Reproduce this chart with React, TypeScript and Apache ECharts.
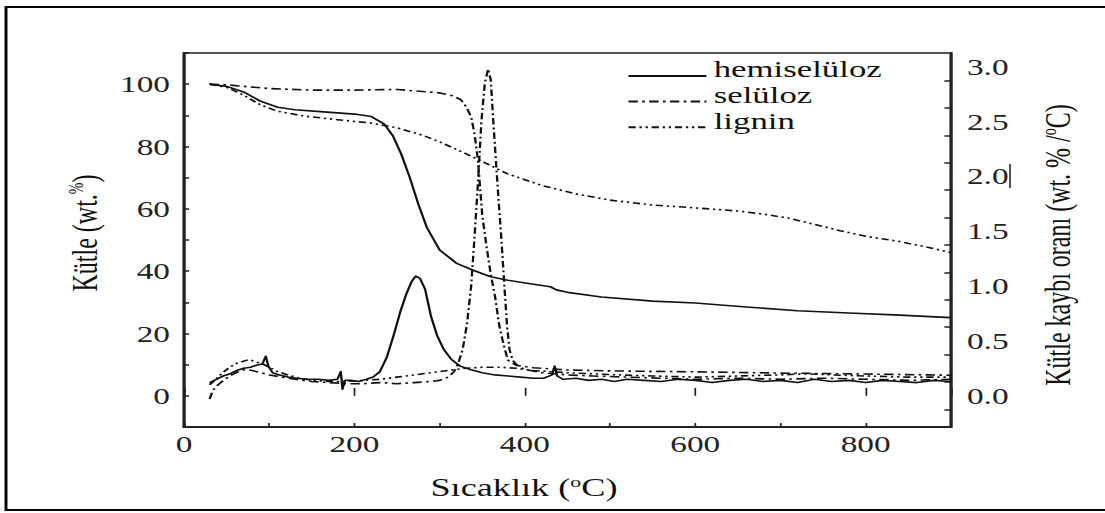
import React, { useEffect, useRef } from 'react';
import * as echarts from 'echarts';

// ---------- data ----------
const seriesNames = ['hemiselüloz', 'selüloz', 'lignin'];

const xTickLabels = ['0', '200', '400', '600', '800'];
const leftTickLabels = ['0', '20', '40', '60', '80', '100'];
const rightLabelValues = [0, 0.5, 1.0, 1.5, 2.0, 2.5, 3.0];
const rightTickValues = [-0.125, 0.125, 0.375, 0.625, 0.875, 1.125, 1.375, 1.625, 1.875, 2.125, 2.375, 2.625, 2.875];

// Mass (TG, wt.%) — left axis
const hemiTgT = [30, 50, 70, 90, 110, 130, 160, 200, 220, 235, 245, 255, 265, 275, 285, 300, 320, 340, 360, 380, 410, 430, 437, 450, 490, 550, 600, 660, 720, 780, 840, 900];
const hemiTgV = [100, 99.3, 97.5, 94.5, 92.6, 91.8, 91.2, 90.4, 89.6, 87.2, 83.5, 77.5, 70, 61.5, 54, 46.8, 42.5, 40.2, 38.2, 37.1, 35.8, 35, 34, 33.2, 31.7, 30.4, 29.8, 28.5, 27.3, 26.6, 25.9, 25.1];

const selTgT = [30, 50, 70, 100, 150, 200, 250, 300, 315, 325, 331, 337, 341, 345, 350, 355, 360, 365, 370, 375, 380, 390, 410, 450, 500, 600, 700, 800, 900];
const selTgV = [100, 99.8, 99.3, 98.6, 98.1, 98.1, 98.3, 97.2, 96.3, 95, 92.8, 89.5, 84, 75.5, 58, 48, 39, 32, 22.5, 16.5, 11.5, 9.8, 9, 8.3, 8, 7.7, 7.3, 7, 6.6];

const ligTgT = [30, 50, 70, 90, 110, 140, 180, 220, 250, 280, 300, 330, 350, 380, 420, 460, 500, 550, 600, 650, 680, 710, 740, 770, 800, 840, 870, 900];
const ligTgV = [100, 99, 96.5, 93.3, 91.3, 89.8, 88.6, 87.5, 86, 83.6, 81.5, 77.8, 75.2, 71.2, 67.5, 64.8, 62.8, 61.2, 60.3, 59.3, 58.3, 57, 55, 53, 51.2, 49.5, 47.8, 46];

// Mass loss rate (DTG, wt.%/°C) — right axis
const hemiDtgT = [30, 38, 46, 54, 62, 70, 78, 86, 92, 96, 99, 104, 112, 122, 132, 145, 158, 170, 180, 184, 186, 189, 196, 205, 214, 222, 230, 238, 246, 254, 261, 267, 272, 277, 283, 290, 297, 305, 314, 324, 336, 350, 365, 380, 395, 410, 422, 432, 435, 438, 445, 460, 475, 490, 505, 520, 540, 560, 580, 600, 620, 640, 660, 680, 700, 720, 740, 760, 780, 800, 820, 840, 860, 880, 900];
const hemiDtgV = [0.12, 0.15, 0.18, 0.2, 0.23, 0.25, 0.26, 0.28, 0.29, 0.36, 0.27, 0.21, 0.19, 0.17, 0.16, 0.15, 0.15, 0.14, 0.15, 0.22, 0.06, 0.14, 0.14, 0.13, 0.15, 0.17, 0.22, 0.35, 0.55, 0.77, 0.93, 1.04, 1.09, 1.07, 0.97, 0.72, 0.55, 0.42, 0.33, 0.27, 0.24, 0.21, 0.19, 0.18, 0.17, 0.16, 0.16, 0.19, 0.27, 0.18, 0.15, 0.16, 0.14, 0.15, 0.13, 0.15, 0.14, 0.13, 0.15, 0.14, 0.12, 0.14, 0.15, 0.13, 0.14, 0.12, 0.15, 0.13, 0.14, 0.12, 0.14, 0.13, 0.12, 0.14, 0.13];

const selDtgT = [30, 34, 40, 48, 56, 64, 72, 80, 90, 100, 115, 130, 150, 170, 190, 210, 230, 250, 270, 290, 300, 310, 317, 322, 327, 332, 337, 341, 345, 349, 353, 357, 360, 363, 366, 369, 372, 376, 379, 382, 386, 392, 400, 420, 450, 480, 520, 560, 600, 650, 700, 750, 800, 850, 900];
const selDtgV = [-0.03, 0.05, 0.1, 0.15, 0.19, 0.22, 0.24, 0.23, 0.21, 0.19, 0.17, 0.15, 0.13, 0.12, 0.11, 0.11, 0.12, 0.11, 0.12, 0.13, 0.14, 0.17, 0.22, 0.3, 0.42, 0.65, 1.0, 1.45, 1.94, 2.5, 2.85, 2.98, 2.88, 2.5, 2.15, 1.8, 1.48, 1.0, 0.65, 0.42, 0.32, 0.27, 0.24, 0.21, 0.19, 0.18, 0.17, 0.16, 0.15, 0.16, 0.15, 0.16, 0.15, 0.14, 0.15];

const ligDtgT = [30, 36, 44, 52, 60, 68, 76, 84, 92, 100, 110, 122, 135, 150, 170, 190, 210, 230, 250, 270, 290, 310, 330, 350, 370, 390, 410, 430, 450, 480, 510, 550, 600, 650, 700, 730, 760, 800, 850, 900];
const ligDtgV = [0.1, 0.14, 0.2, 0.25, 0.29, 0.31, 0.33, 0.31, 0.29, 0.26, 0.22, 0.19, 0.16, 0.14, 0.13, 0.13, 0.14, 0.15, 0.17, 0.19, 0.21, 0.23, 0.25, 0.26, 0.26, 0.25, 0.23, 0.22, 0.21, 0.2, 0.19, 0.18, 0.17, 0.18, 0.19, 0.2, 0.19, 0.18, 0.17, 0.17];

// ---------- layout ----------
const S = 1.45; // the original figure is stretched horizontally
const H = 513;
const W = 1105 / S;
const px = (pageX: number) => pageX / S;

const FONT = 'Liberation Serif';
const INK = '#111';
const AXIS = '#222';

const pairs = (t: number[], v: number[]) => t.map((x, i) => [x, v[i]]);

const dashSel = [6.5, 3, 1.8, 3];
const dashLig = [5, 2.6, 1.6, 2.6, 1.6, 2.6];
const lineTypes: any[] = ['solid', dashSel, dashLig];

function line(name: string, data: number[][], idx: number, yAxisIndex: number) {
  return {
    type: 'line',
    name,
    data,
    yAxisIndex,
    xAxisIndex: 0,
    symbol: 'none',
    showSymbol: false,
    smooth: false,
    color: INK,
    itemStyle: { color: INK },
    lineStyle: { color: INK, width: 1.6, type: lineTypes[idx], join: 'round', cap: 'butt' },
    z: 3,
  };
}

const richT = { fontFamily: FONT, fontSize: 24, lineHeight: 26, color: INK };
const richS = { fontFamily: FONT, fontSize: 14, color: INK, verticalAlign: 'top' };
const richTx = { fontFamily: FONT, fontSize: 25, lineHeight: 27, color: INK };
const richSx = { fontFamily: FONT, fontSize: 15, color: INK, verticalAlign: 'top' };

const gridLeft = px(184);
const gridRightEdge = px(951);

const option: any = {
  animation: false,
  backgroundColor: '#fff',
  textStyle: { fontFamily: FONT },
  grid: {
    left: gridLeft,
    right: W - gridRightEdge,
    top: 53,
    bottom: H - 427,
    show: true,
    borderColor: '#555',
    borderWidth: 2,
    backgroundColor: 'transparent',
  },
  legend: {
    data: seriesNames,
    orient: 'vertical',
    left: px(627),
    top: 57,
    padding: 0,
    itemWidth: px(705) - px(627),
    itemHeight: 10,
    itemGap: -12.4,
    selectedMode: false,
    itemStyle: { opacity: 0, borderWidth: 0 },
    formatter: (name: string) => `{a|${name}}`,
    textStyle: {
      fontFamily: FONT,
      fontSize: 24,
      color: INK,
      rich: { a: { fontFamily: FONT, fontSize: 24, lineHeight: 24, color: INK, padding: [0, 0, 14, 0] } },
    },
  },
  xAxis: [
    {
      type: 'value',
      min: 0,
      max: 900,
      interval: 100,
      axisLine: { show: true, onZero: false, lineStyle: { color: AXIS, width: 2 } },
      axisTick: { show: true, inside: true, length: 4, lineStyle: { color: AXIS, width: 1.2 } },
      axisLabel: {
        margin: 5,
        fontFamily: FONT,
        fontSize: 23,
        color: AXIS,
        showMaxLabel: false,
        formatter: (v: number) => (xTickLabels.includes(String(v)) ? String(v) : ''),
      },
      splitLine: { show: false },
      name: '{t|Sıcaklık (}{s|o}{t|C)}',
      nameLocation: 'middle',
      nameGap: 47,
      nameTextStyle: { fontFamily: FONT, fontSize: 25, color: INK, padding: [0, 60, 0, 0], rich: { t: richTx, s: richSx } },
    },
    {
      type: 'value',
      min: 0,
      max: 900,
      interval: 200,
      position: 'bottom',
      axisLine: { show: false },
      axisTick: { show: true, inside: true, length: 8, lineStyle: { color: AXIS, width: 1.2 } },
      axisLabel: { show: false },
      splitLine: { show: false },
    },
  ],
  yAxis: [
    {
      type: 'value',
      position: 'left',
      min: -10,
      max: 110,
      interval: 10,
      axisLine: { show: true, onZero: false, lineStyle: { color: AXIS, width: 2 } },
      axisTick: { show: true, inside: true, length: 3.5, lineStyle: { color: AXIS, width: 1.5 } },
      axisLabel: {
        margin: px(14),
        fontFamily: FONT,
        fontSize: 23,
        color: AXIS,
        formatter: (v: number) => (leftTickLabels.includes(String(v)) ? String(v) : ''),
      },
      splitLine: { show: false },
      name: '{t|Kütle (wt.}{s|%}{t|)}',
      nameLocation: 'middle',
      nameGap: 55.6,
      nameTextStyle: { fontFamily: FONT, fontSize: 24, color: INK, padding: [0, 0, 0, 14], rich: { t: richT, s: richS } },
    },
    {
      type: 'value',
      position: 'right',
      min: -0.285,
      max: 3.125,
      axisLine: { show: true, onZero: false, lineStyle: { color: AXIS, width: 2 } },
      axisTick: { show: true, inside: true, length: 4.5, customValues: rightTickValues, lineStyle: { color: AXIS, width: 1.5 } },
      axisLabel: {
        customValues: rightLabelValues,
        margin: px(16),
        fontFamily: FONT,
        fontSize: 23,
        color: AXIS,
        formatter: (v: number) => v.toFixed(1),
      },
      splitLine: { show: false },
      name: '{t|Kütle kaybı oranı (wt. % /}{s|o}{t|C)}',
      nameLocation: 'middle',
      nameGap: 61,
      nameTextStyle: { fontFamily: FONT, fontSize: 24, color: INK, padding: [0, 10, 0, 0], rich: { t: richT, s: richS } },
    },
  ],
  series: [
    line(seriesNames[0], pairs(hemiTgT, hemiTgV), 0, 0),
    line(seriesNames[1], pairs(selTgT, selTgV), 1, 0),
    line(seriesNames[2], pairs(ligTgT, ligTgV), 2, 0),
    line(seriesNames[0], pairs(hemiDtgT, hemiDtgV), 0, 1),
    line(seriesNames[1], pairs(selDtgT, selDtgV), 1, 1),
    line(seriesNames[2], pairs(ligDtgT, ligDtgV), 2, 1),
  ],
  graphic: [
    {
      type: 'rect',
      silent: true,
      z: -1,
      shape: { x: px(6), y: 7, width: W + 50, height: 503 },
      style: { fill: 'transparent', stroke: '#000', lineWidth: 2 },
    },
    {
      type: 'line',
      silent: true,
      shape: { x1: px(1010), y1: 164, x2: px(1010), y2: 188 },
      style: { stroke: INK, lineWidth: 1 },
    },
  ],
};

export default function App() {
  const ref = useRef<HTMLDivElement>(null);
  useEffect(() => {
    if (!ref.current) return;
    const chart = echarts.init(ref.current, null, { renderer: 'svg' });
    chart.setOption(option);
    return () => chart.dispose();
  }, []);
  return (
    <div
      ref={ref}
      style={{
        position: 'absolute',
        left: 0,
        top: 0,
        width: W,
        height: H,
        transform: `scaleX(${S})`,
        transformOrigin: '0 0',
        background: '#fff',
        overflow: 'hidden',
      }}
    />
  );
}
